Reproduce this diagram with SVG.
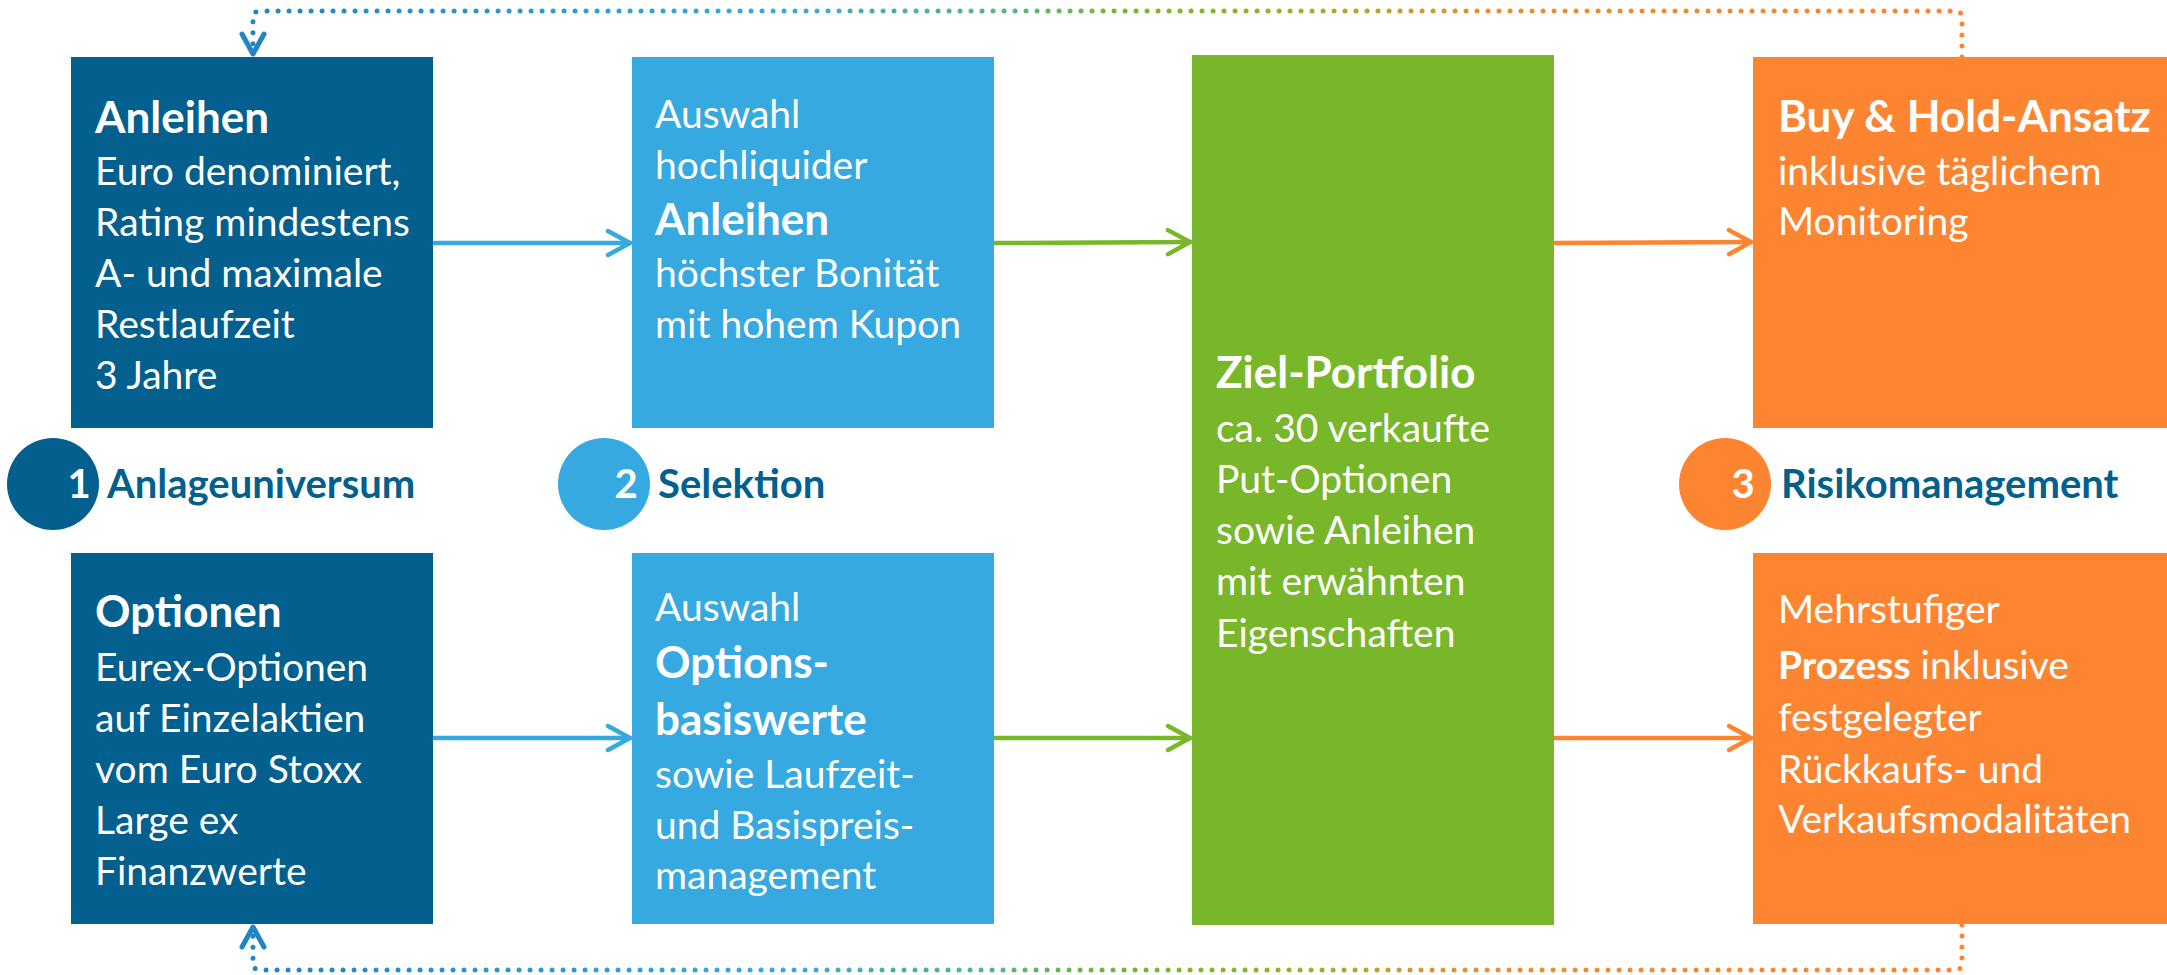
<svg xmlns="http://www.w3.org/2000/svg" width="2167" height="975" viewBox="0 0 2167 975">
<style>
text{font-family:Lato,"Open Sans","Liberation Sans",sans-serif;}
.t{fill:#fff;font-size:39px;}
.b{font-weight:bold;}
.h{fill:#fff;font-size:44px;font-weight:bold;}
.lbl{fill:#035F8E;font-size:40px;font-weight:bold;}
.num{fill:#fff;font-size:40px;font-weight:bold;text-anchor:middle;}
.c1{fill:#025F8E;}
.c2{fill:#36A9E1;}
.c3{fill:#78B72A;}
.c4{fill:#FD8431;}
.arr{fill:none;stroke-width:4.5;stroke-linecap:round;}
.dot{fill:none;stroke:url(#grad);stroke-width:5;stroke-linecap:round;stroke-dasharray:0 11;}
.chev{fill:none;stroke-width:5;stroke-linecap:round;stroke-linejoin:round;}
</style>
<defs>
<linearGradient id="grad" gradientUnits="userSpaceOnUse" x1="253" y1="0" x2="1962" y2="0">
<stop offset="0" stop-color="#1F86C1"/>
<stop offset="0.3" stop-color="#36A9E1"/>
<stop offset="0.44" stop-color="#5BB47A"/>
<stop offset="0.52" stop-color="#78B72A"/>
<stop offset="0.6" stop-color="#8FB52A"/>
<stop offset="0.72" stop-color="#E6902E"/>
<stop offset="1" stop-color="#FD8431"/>
</linearGradient>
<marker id="mb" markerUnits="userSpaceOnUse" markerWidth="30" markerHeight="30" refX="24" refY="14" orient="auto" overflow="visible">
<path d="M2 2 L24 14 L2 26" fill="none" stroke="#36A9E1" stroke-width="4.5" stroke-linecap="round" stroke-linejoin="round"/>
</marker>
<marker id="mg" markerUnits="userSpaceOnUse" markerWidth="30" markerHeight="30" refX="24" refY="14" orient="auto" overflow="visible">
<path d="M2 2 L24 14 L2 26" fill="none" stroke="#78B72A" stroke-width="4.5" stroke-linecap="round" stroke-linejoin="round"/>
</marker>
<marker id="mo" markerUnits="userSpaceOnUse" markerWidth="30" markerHeight="30" refX="24" refY="14" orient="auto" overflow="visible">
<path d="M2 2 L24 14 L2 26" fill="none" stroke="#FD8431" stroke-width="4.5" stroke-linecap="round" stroke-linejoin="round"/>
</marker>
</defs>
<rect width="2167" height="975" fill="#fff"/>

<g id="connectors">
<path class="dot" d="M1962 57 L1962 18 Q1962 11 1955 11 L260 11 Q253 11 253 18 L253 50"/>
<path class="chev" stroke="#1F86C1" d="M242 34 L253 54 L264 34"/>
<path class="dot" d="M1962 925 L1962 963 Q1962 970 1955 970 L260 970 Q253 970 253 963 L253 931"/>
<path class="chev" stroke="#1F86C1" d="M242 947 L253 927 L264 947"/>
<line class="arr" stroke="#36A9E1" x1="434" y1="243" x2="630" y2="243" marker-end="url(#mb)"/>
<line class="arr" stroke="#36A9E1" x1="434" y1="738" x2="630" y2="738" marker-end="url(#mb)"/>
<line class="arr" stroke="#78B72A" x1="995" y1="243" x2="1190" y2="242" marker-end="url(#mg)"/>
<line class="arr" stroke="#78B72A" x1="995" y1="738" x2="1190" y2="738" marker-end="url(#mg)"/>
<line class="arr" stroke="#FD8431" x1="1555" y1="243" x2="1751" y2="242" marker-end="url(#mo)"/>
<line class="arr" stroke="#FD8431" x1="1555" y1="738" x2="1751" y2="738" marker-end="url(#mo)"/>
</g>

<g id="anleihen">
<rect class="c1" x="71" y="57" width="362" height="371"/>
<text class="h" x="95" y="133">Anleihen</text>
<text class="t" x="95" y="185">Euro denominiert,</text>
<text class="t" x="95" y="236">Rating mindestens</text>
<text class="t" x="95" y="287">A- und maximale</text>
<text class="t" x="95" y="338">Restlaufzeit</text>
<text class="t" x="95" y="389">3 Jahre</text>
</g>

<g id="optionen">
<rect class="c1" x="71" y="553" width="362" height="371"/>
<text class="h" x="95" y="627">Optionen</text>
<text class="t" x="95" y="681">Eurex-Optionen</text>
<text class="t" x="95" y="732">auf Einzelaktien</text>
<text class="t" x="95" y="783">vom Euro Stoxx</text>
<text class="t" x="95" y="834">Large ex</text>
<text class="t" x="95" y="885">Finanzwerte</text>
</g>

<g id="step1">
<circle class="c1" cx="53" cy="484" r="46"/>
<text class="num" x="79" y="498">1</text>
<text class="lbl" x="107" y="498">Anlageuniversum</text>
</g>

<g id="auswahl-anleihen">
<rect class="c2" x="632" y="57" width="362" height="371"/>
<text class="t" x="655" y="128">Auswahl</text>
<text class="t" x="655" y="179">hochliquider</text>
<text class="h" x="655" y="235">Anleihen</text>
<text class="t" x="655" y="287">höchster Bonität</text>
<text class="t" x="655" y="338">mit hohem Kupon</text>
</g>

<g id="auswahl-optionen">
<rect class="c2" x="632" y="553" width="362" height="371"/>
<text class="t" x="655" y="621">Auswahl</text>
<text class="h" x="655" y="678">Options-</text>
<text class="h" x="655" y="735">basiswerte</text>
<text class="t" x="655" y="788">sowie Laufzeit-</text>
<text class="t" x="655" y="839">und Basispreis-</text>
<text class="t" x="655" y="889">management</text>
</g>

<g id="step2">
<circle class="c2" cx="604" cy="484" r="46"/>
<text class="num" x="626" y="498">2</text>
<text class="lbl" x="658" y="498">Selektion</text>
</g>

<g id="ziel-portfolio">
<rect class="c3" x="1192" y="55" width="362" height="870"/>
<text class="h" x="1216" y="388">Ziel-Portfolio</text>
<text class="t" x="1216" y="442">ca. 30 verkaufte</text>
<text class="t" x="1216" y="493">Put-Optionen</text>
<text class="t" x="1216" y="544">sowie Anleihen</text>
<text class="t" x="1216" y="595">mit erwähnten</text>
<text class="t" x="1216" y="647">Eigenschaften</text>
</g>

<g id="buy-hold">
<rect class="c4" x="1753" y="57" width="414" height="371"/>
<text class="h" x="1778" y="132">Buy &amp; Hold-Ansatz</text>
<text class="t" x="1778" y="185">inklusive täglichem</text>
<text class="t" x="1778" y="235">Monitoring</text>
</g>

<g id="prozess">
<rect class="c4" x="1753" y="553" width="414" height="371"/>
<text class="t" x="1778" y="623">Mehrstufiger</text>
<text class="t" x="1778" y="679"><tspan class="b">Prozess</tspan> inklusive</text>
<text class="t" x="1778" y="731">festgelegter</text>
<text class="t" x="1778" y="783">Rückkaufs- und</text>
<text class="t" x="1778" y="833">Verkaufsmodalitäten</text>
</g>

<g id="step3">
<circle class="c4" cx="1725" cy="484" r="46"/>
<text class="num" x="1743" y="498">3</text>
<text class="lbl" x="1781" y="498">Risikomanagement</text>
</g>
</svg>
